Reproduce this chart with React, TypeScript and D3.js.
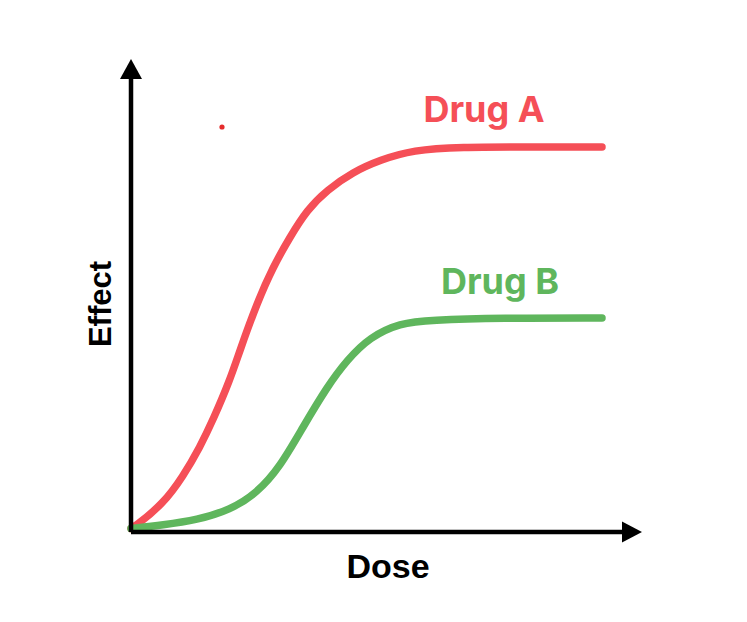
import React from "react";
import * as d3 from "d3";

const doseA = [0, 0.8, 6.4, 10.4, 13.8, 16.4, 19.8, 21.8, 25.2, 28.4, 31.8, 35.2, 39.2, 44.4, 49.8, 56.4, 65.8, 79.8, 94.2];
const effectA = [0.5, 0.9, 5.4, 10.9, 16.8, 22.2, 30.2, 36.2, 45.6, 52.8, 58.8, 64.2, 68.2, 71.8, 74.2, 76.2, 76.8, 76.8, 76.8];
const doseB = [0, 6.4, 13.2, 19.8, 25.2, 29.8, 34.4, 39.2, 43.2, 47.8, 53.8, 59.8, 73.8, 94.2];
const effectB = [0.5, 1.2, 2.2, 4.2, 7.6, 12.8, 20.8, 28.8, 34.2, 38.8, 41.6, 42.2, 42.6, 42.6];
const seriesNames = ["Drug A", "Drug B"];
const labelPos = [[70.6, 81.8], [73.8, 47.4]]; // dose, effect for label center/baseline
const marker = [18.2, 80.8];

export default function App() {
  const W = 747, H = 622;
  const x = d3.scaleLinear().domain([0, 100]).range([131, 631]);
  const y = d3.scaleLinear().domain([0, 100]).range([531, 31]);
  const line = d3.line<[number, number]>().x(d => x(d[0])).y(d => y(d[1])).curve(d3.curveBasis);
  const dataA = doseA.map((d, i) => [d, effectA[i]] as [number, number]);
  const dataB = doseB.map((d, i) => [d, effectB[i]] as [number, number]);
  const colors = ["#f54f57", "#5fb65d"];
  const ox = 131, oy = 532;
  return (
    <svg width={W} height={H} style={{ position: "absolute", left: 0, top: 0 }}>
      <rect width={W} height={H} fill="#fff" />
      <path d={line(dataA) || ""} fill="none" stroke={colors[0]} strokeWidth={7.5} strokeLinecap="round" />
      <path d={line(dataB) || ""} fill="none" stroke={colors[1]} strokeWidth={7.5} strokeLinecap="round" />
      <line x1={ox} y1={oy} x2={ox} y2={72} stroke="#000" strokeWidth={4.5} />
      <line x1={ox} y1={oy} x2={628} y2={oy} stroke="#000" strokeWidth={4.5} />
      <path d={`M${ox},59 L${ox + 11},79 L${ox - 11},79 Z`} fill="#000" />
      <path d={`M642,${oy} L622,${oy - 10.5} L622,${oy + 10.5} Z`} fill="#000" />
      <circle cx={x(marker[0])} cy={y(marker[1])} r={2.6} fill="#e52b2b" />
      {seriesNames.map((n, i) => (
        <text key={n} x={x(labelPos[i][0])} y={y(labelPos[i][1])} textAnchor="middle" fill={colors[i]}
          fontFamily="Inter, 'Open Sans', sans-serif" fontWeight={700} fontSize={36}>{n}</text>
      ))}
      <text x={388} y={578} textAnchor="middle" fontFamily="'Liberation Sans', Arial, sans-serif" fontWeight={700} fontSize={34} fill="#000">Dose</text>
      <text transform="translate(111,304) rotate(-90)" textAnchor="middle" fontFamily="'Liberation Sans', Arial, sans-serif" fontWeight={700} fontSize={31} fill="#000">Effect</text>
    </svg>
  );
}
